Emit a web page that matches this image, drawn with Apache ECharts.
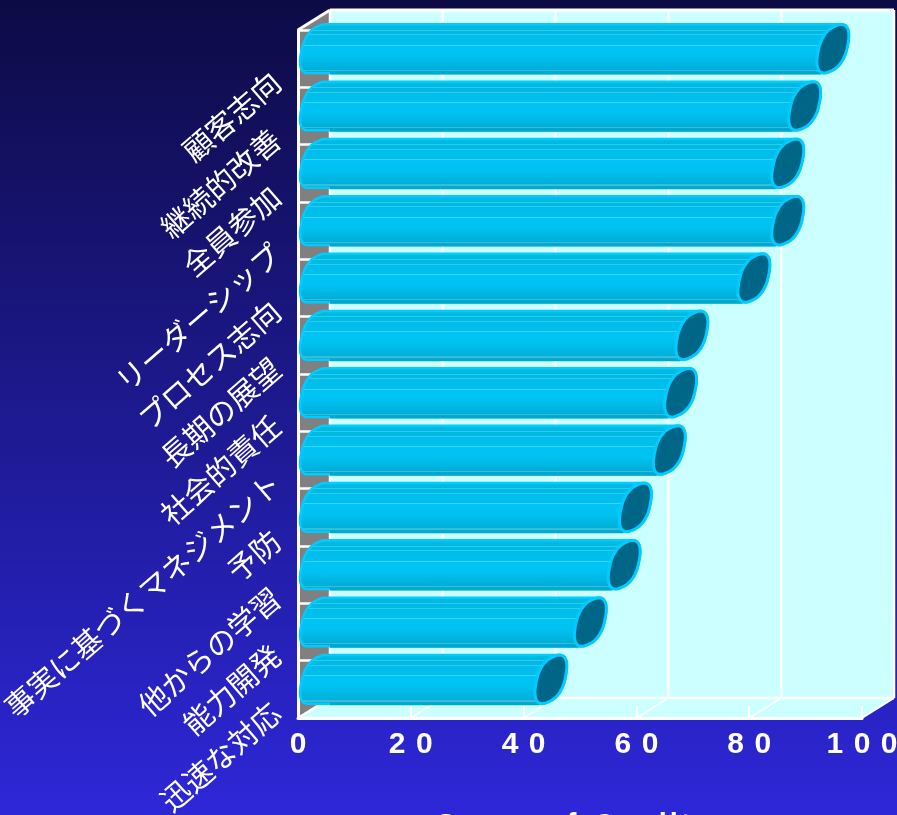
<!DOCTYPE html>
<html>
<head>
<meta charset="utf-8">
<style>html,body{margin:0;padding:0;background:#2c27d6;overflow:hidden}#c{width:897px;height:815px}</style>
<script src="https://cdn.jsdelivr.net/npm/echarts@6/dist/echarts.min.js"></script>
</head>
<body>
<div id="c"></div>
<script>
// Quality criteria, ordered from highest to lowest score
const categories = ['顧客志向','継続的改善','全員参加','リーダーシップ','プロセス志向','長期の展望','社会的責任','事実に基づくマネジメント','予防','他からの学習','能力開発','迅速な対応'];
const scores = [92, 87, 84, 84, 78, 67, 65, 63, 57, 55, 49, 42];
const tickValues = [0, 20, 40, 60, 80, 100];
const axisTitle = 'Score of Quality';

// Oblique depth of the box the bars sit in
const DEPTH_X = 32;
const DEPTH_Y = -20;
const WHITE = '#ffffff';
const WALL = '#ccffff';
const SIDE = '#808080';
const RIM = '#00ccff';
const RIM_SHADE = '#00a8cc';
const CAP = '#006688';

// Horizontal banding along the cylinder body
const bodyStops = [
  [0, '#00bce4'], [0.13, '#00b8e0'], [0.13, '#2accf0'], [0.15, '#2accf0'], [0.15, '#00b8e2'],
  [0.22, '#00bae6'], [0.22, '#2accf0'], [0.24, '#2accf0'], [0.24, '#00bdea'],
  [0.42, '#00c0ee'], [0.42, '#38d4f8'], [0.44, '#38d4f8'], [0.44, '#00c4f6'],
  [0.64, '#00c2f2'], [0.8, '#00b6e2'], [0.91, '#00aeda'],
  [0.91, '#38bcd8'], [0.935, '#38bcd8'], [0.935, '#00a8cc'], [1, '#00a8cc']
];
const bodyFill = new echarts.graphic.LinearGradient(0, 0, 0, 1,
  bodyStops.map(([offset, color]) => ({offset, color})));

// Spreads characters apart using rich-text tokens
function spaced(text, gapToken) {
  return text.split('').map(ch => ch === ' ' ? `{w| }` : `{d|${ch}}{${gapToken}| }`).join('').replace(/\{[a-z]+\| \}$/, '');
}

function renderBox(params, api) {
  const g = params.coordSys;
  const left = api.coord([0, 0])[0];
  const right = api.coord([100, 0])[0];
  const top = g.y, bottom = g.y + g.height;
  const line = (x1, y1, x2, y2, w) => ({
    type: 'line', shape: {x1, y1, x2, y2}, style: {stroke: WHITE, lineWidth: w || 2.5}
  });
  const poly = (points, fill) => ({type: 'polygon', shape: {points}, style: {fill}});
  const children = [
    poly([[left + DEPTH_X, top + DEPTH_Y], [right + DEPTH_X, top + DEPTH_Y], [right + DEPTH_X, bottom + DEPTH_Y], [right, bottom], [left, bottom], [left + DEPTH_X, bottom + DEPTH_Y]], WALL),
    poly([[left, top], [left + DEPTH_X, top + DEPTH_Y], [left + DEPTH_X, bottom + DEPTH_Y], [left, bottom]], SIDE),
    line(left, top, left + DEPTH_X, top + DEPTH_Y, 3),
    line(left + DEPTH_X, top + DEPTH_Y, right + DEPTH_X, top + DEPTH_Y, 3),
    line(left + DEPTH_X, bottom + DEPTH_Y, right + DEPTH_X, bottom + DEPTH_Y, 2.5),
    line(left, bottom, left + DEPTH_X, bottom + DEPTH_Y, 2.5),
    line(right, bottom, right + DEPTH_X, bottom + DEPTH_Y, 2)
  ];
  tickValues.forEach(v => {
    const x = api.coord([v, 0])[0];
    children.push(line(x + DEPTH_X, top + DEPTH_Y, x + DEPTH_X, bottom + DEPTH_Y));
    if (v > 0 && v < 100) children.push(line(x, bottom, x + DEPTH_X, bottom + DEPTH_Y, 2));
  });
  return {type: 'group', children};
}

// Signed power keeps the end cap a little fuller than a plain ellipse
const fuller = v => Math.sign(v) * Math.pow(Math.abs(v), 0.88);

// Outline of the tilted end cap at a given x, for an angular range
function capPoints(x, cy, halfW, halfH, from, to) {
  const tilt = 30 * Math.PI / 180, pts = [], steps = 36;
  for (let i = 0; i <= steps; i++) {
    const s = (from + (to - from) * i / steps) * Math.PI / 180;
    pts.push([x + halfW + halfW * fuller(Math.cos(s + tilt)), cy + halfH * fuller(Math.sin(s))]);
  }
  return pts;
}

function renderBar(params, api) {
  const value = api.value(0), row = api.value(1);
  const end = api.coord([value, row]);
  const start = api.coord([0, row]);
  const band = api.size([0, 1])[1];
  const halfW = DEPTH_X / 2;
  const halfH = band * 0.25 - DEPTH_Y / 2;
  const cy = end[1] + DEPTH_Y / 2;
  const startX = start[0] + 2;
  const outline = capPoints(startX, cy, halfW, halfH, 90, 270)
    .concat(capPoints(end[0], cy, halfW, halfH, -90, 90));
  const lowY = cy + halfH;
  return {type: 'group', children: [
    {type: 'polygon', shape: {points: outline}, style: {fill: bodyFill, stroke: RIM, lineWidth: 2.5, lineJoin: 'round'}},
    // The lower edge of the body sits in shade between the rounded ends
    {type: 'line', shape: {x1: start[0] + DEPTH_X, y1: lowY, x2: end[0] + 4, y2: lowY}, style: {stroke: RIM_SHADE, lineWidth: 3}},
    {type: 'polygon', shape: {points: capPoints(end[0], cy, halfW, halfH, 0, 360)}, style: {fill: CAP, stroke: RIM, lineWidth: 3}}
  ]};
}

const chart = echarts.init(document.getElementById('c'), null, {renderer: 'canvas'});
chart.setOption({
  animation: false,
  backgroundColor: new echarts.graphic.LinearGradient(0, 0, 0, 1, [
    {offset: 0, color: '#0d0b45'}, {offset: 1, color: '#2d27d8'}
  ]),
  grid: {left: 298, top: 30, width: 564, height: 688, outerBoundsMode: 'none'},
  xAxis: {
    type: 'value', min: 0, max: 100, interval: 20, z: 2,
    axisLine: {show: true, onZero: false, lineStyle: {color: WHITE, width: 3}},
    axisTick: {show: true, inside: true, length: 12, lineStyle: {color: WHITE, width: 2}},
    splitLine: {show: false},
    axisLabel: {
      margin: 12, color: WHITE, showMinLabel: true, showMaxLabel: true, hideOverlap: false,
      formatter: v => spaced(String(v), 'g'),
      rich: {
        d: {fontFamily: 'Liberation Sans', fontSize: 30, fontWeight: 'bold', color: WHITE},
        g: {width: 10.5, fontSize: 10}
      }
    },
    name: spaced(axisTitle, 'n'),
    nameLocation: 'middle', nameGap: 93,
    nameTextStyle: {
      padding: [0, 14, 0, 0],
      rich: {
        d: {fontFamily: 'Liberation Sans', fontSize: 29, fontWeight: 'bold', color: WHITE},
        n: {width: 3, fontSize: 3},
        w: {width: 14, fontSize: 10}
      }
    }
  },
  yAxis: {
    type: 'category', inverse: true, data: categories, z: 2,
    axisLine: {show: true, onZero: false, lineStyle: {color: WHITE, width: 3}},
    axisTick: {show: true, inside: true, length: 16, lineStyle: {color: WHITE, width: 2.5}},
    splitLine: {show: false},
    axisLabel: {
      interval: 0, rotate: 41, margin: 0, padding: [0, 29, 0, 0],
      color: WHITE, fontFamily: 'Noto Sans CJK JP', fontSize: 29.5, hideOverlap: false
    }
  },
  series: [
    {type: 'custom', z: 1, silent: true, coordinateSystem: 'cartesian2d', data: [[0, 0]], renderItem: renderBox, clip: false},
    {
      type: 'custom', z: 3, silent: true, coordinateSystem: 'cartesian2d', clip: false,
      encode: {x: 0, y: 1},
      data: scores.map((s, i) => [s, i]),
      renderItem: renderBar
    }
  ]
});
</script>
</body>
</html>
